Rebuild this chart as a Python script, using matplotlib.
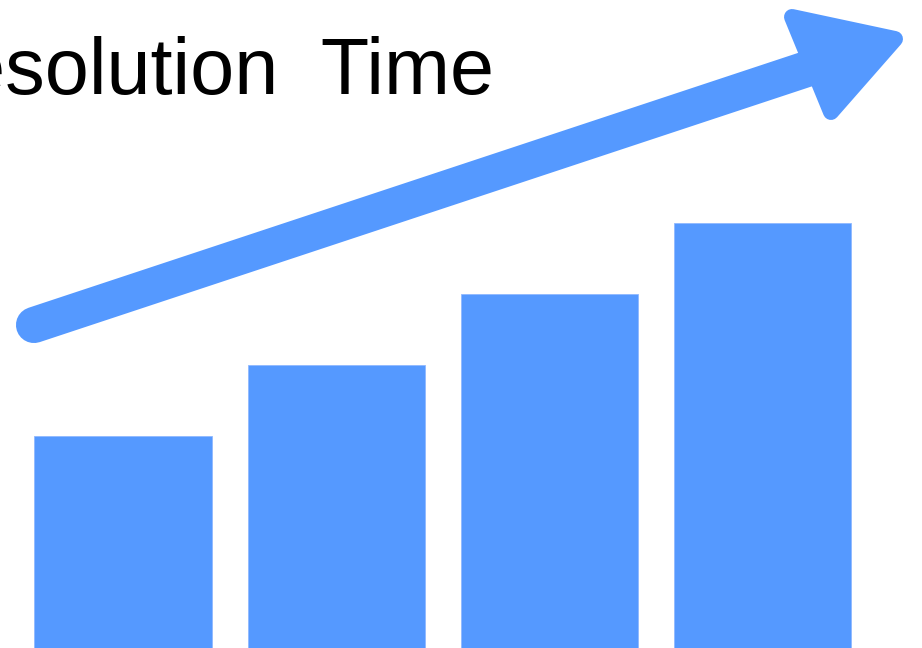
import matplotlib
matplotlib.use("Agg")
import matplotlib.pyplot as plt
from matplotlib.patches import Polygon

W, H = 922, 648

categories = ["Q1", "Q2", "Q3", "Q4"]
values = [3, 4, 5, 6]
title = "Resolution  Time"

BLUE = "#5599ff"


def px(x, y):
    # pixel (from top-left) -> figure fraction
    return x / W, 1 - y / H


fig = plt.figure(figsize=(W / 100, H / 100), dpi=100)
ax = fig.add_axes([0, 0, 1, 1])
ax.bar(range(len(categories)), values, width=0.832, color=BLUE,
       edgecolor="#8fb8ff", linewidth=0.6)
ax.set_xlim(-0.577, 3.748)
ax.set_ylim(0, 9.15)
ax.axis("off")

# trend arrow: thick shaft with a round tail, rounded triangular head
x0, y0 = px(34, 325)
x1, y1 = px(822, 64)
fig.add_artist(plt.Line2D([x0, x1], [y0, y1], transform=fig.transFigure,
                          color=BLUE, linewidth=26, solid_capstyle="round"))
head = [px(792, 17), px(895, 39), px(831, 112)]
fig.add_artist(Polygon(head, closed=True, transform=fig.transFigure,
                       facecolor=BLUE, edgecolor=BLUE, linewidth=11.5,
                       joinstyle="round"))

tx, ty = px(494, 94)
fig.text(tx, ty, title, ha="right", va="baseline", fontsize=57,
         family="Liberation Sans", color="black")

fig.savefig("out.png", dpi=100, facecolor="white")
